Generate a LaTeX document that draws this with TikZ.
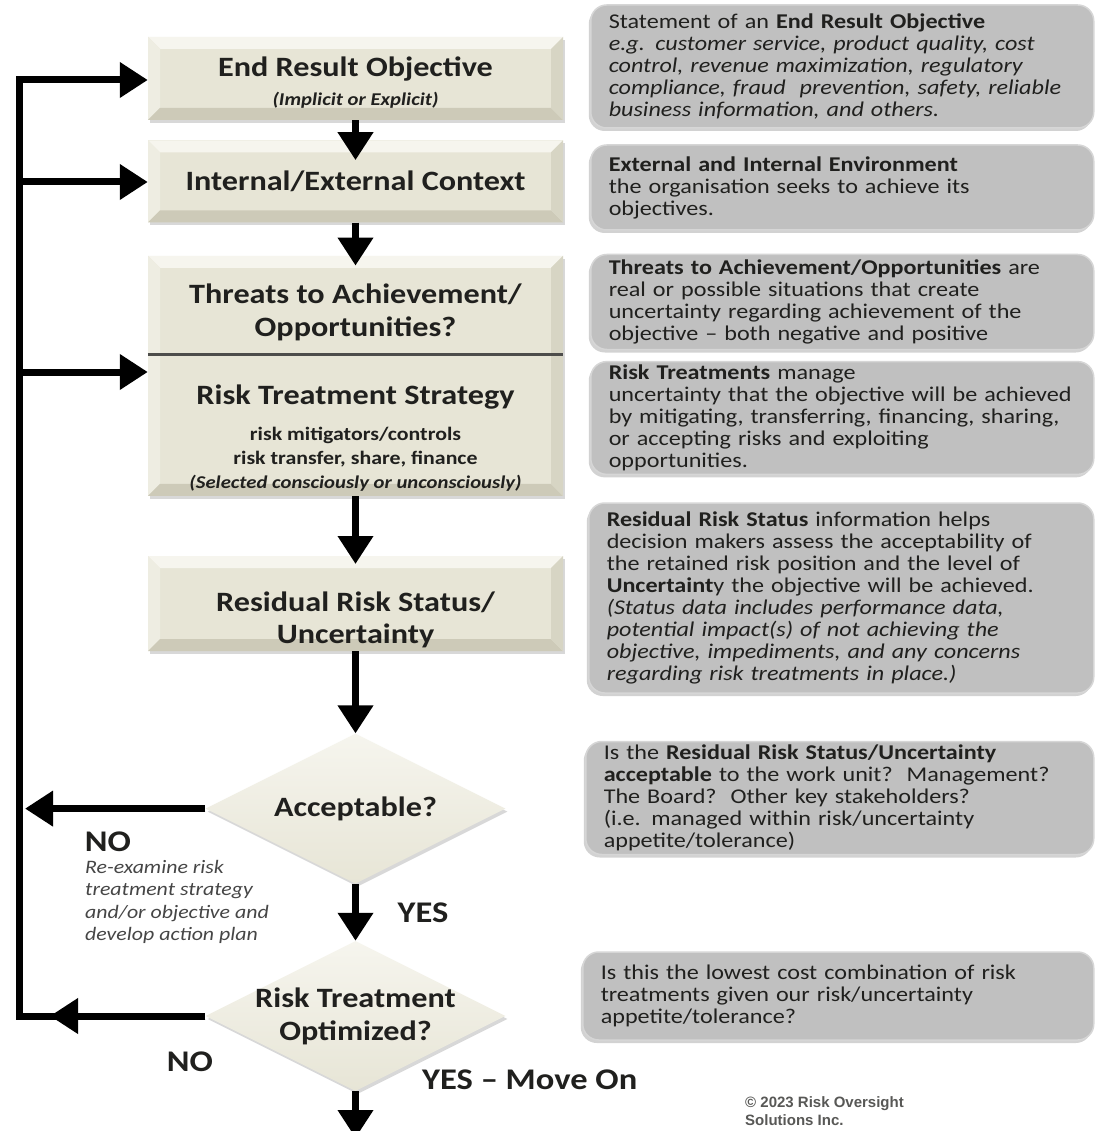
\documentclass[tikz,border=0pt]{standalone}
\usepackage{fontspec}
\setmainfont{Carlito}[FakeStretch=1.15]
\newfontfamily\copyfont{Liberation Sans}
\usetikzlibrary{positioning,arrows.meta,shapes.geometric,shadows}

\definecolor{boxfill}{RGB}{231,229,214}
\definecolor{boxlight}{RGB}{246,245,238}
\definecolor{boxdark}{RGB}{205,202,184}
\definecolor{infofill}{RGB}{192,192,192}
\definecolor{infoedge}{RGB}{214,214,214}
\definecolor{ink}{RGB}{32,32,30}
\definecolor{notegray}{RGB}{70,70,70}

\begin{document}
\begin{tikzpicture}[x=1pt, y=-1pt,
  stepbox/.style={rectangle, fill=boxfill, minimum width=415pt, inner sep=0pt, align=center, text=ink,
    font=\fontsize{28}{32}\selectfont\bfseries,
    drop shadow={opacity=0.3, shadow xshift=2pt, shadow yshift=-3pt},
    path picture={
      \fill[boxlight] (path picture bounding box.north west) -- (path picture bounding box.north east)
        -- ([shift={(-12pt,-12pt)}]path picture bounding box.north east)
        -- ([shift={(12pt,-12pt)}]path picture bounding box.north west) -- cycle;
      \fill[boxlight!50!boxfill] (path picture bounding box.north west) -- ([shift={(12pt,-12pt)}]path picture bounding box.north west)
        -- ([shift={(12pt,12pt)}]path picture bounding box.south west) -- (path picture bounding box.south west) -- cycle;
      \fill[boxdark] (path picture bounding box.south west) -- ([shift={(12pt,12pt)}]path picture bounding box.south west)
        -- ([shift={(-12pt,12pt)}]path picture bounding box.south east) -- (path picture bounding box.south east) -- cycle;
      \fill[boxdark!60!boxfill] (path picture bounding box.north east) -- ([shift={(-12pt,-12pt)}]path picture bounding box.north east)
        -- ([shift={(-12pt,12pt)}]path picture bounding box.south east) -- (path picture bounding box.south east) -- cycle;
    }},
  decision/.style={diamond, aspect=2, minimum width=300pt, minimum height=150pt, inner sep=0pt,
    top color=boxlight, bottom color=boxfill,
    drop shadow={opacity=0.3, shadow xshift=2pt, shadow yshift=-3pt}},
  dtext/.style={align=center, text=ink, font=\fontsize{28}{33}\selectfont\bfseries},
  infobox/.style={rectangle, anchor=west, rounded corners=16pt, fill=infofill, draw=infoedge, line width=1.5pt,
    text width=467pt, inner xsep=18pt, align=left, text=ink, font=\fontsize{21}{22}\selectfont,
    drop shadow={opacity=0.35, shadow xshift=-2pt, shadow yshift=-3pt}},
  arr/.style={-{Triangle[length=28pt,width=34pt]}, line width=7pt},
  tag/.style={inner sep=0pt, text=ink, font=\fontsize{30}{32}\selectfont\bfseries},
  note/.style={inner sep=0pt, align=left, text=notegray, font=\fontsize{19}{22.5}\selectfont\itshape}
]
\path[fill=white, use as bounding box] (0,0) rectangle (1096,1131);

\node[stepbox, minimum height=83pt] (ero) at (355.5,78.5)
  {\rule{0pt}{28pt}End Result Objective\\[-3pt]{\fontsize{18}{20}\selectfont\bfseries\itshape (Implicit or Explicit)}};
\node[stepbox, minimum height=82pt, below=20pt of ero] (ctx) {Internal/External Context};
\node[stepbox, minimum height=240pt, below=33pt of ctx] (tbox) {};
\node[dtext, yshift=-57pt] (threat) at (tbox.north) {Threats to Achievement/\\Opportunities?};
\node[align=center, text=ink, font=\fontsize{19}{24}\selectfont\bfseries, yshift=-182pt] (strat) at (tbox.north)
  {{\fontsize{28}{32}\selectfont Risk Treatment Strategy}\\[12pt]
   risk mitigators/controls\\
   risk transfer, share, finance\\
   {\fontsize{18}{24}\selectfont\itshape (Selected consciously or unconsciously)}};
\draw[line width=2.5pt, draw=ink!80] ([yshift=-99pt]tbox.north west) -- ([yshift=-99pt]tbox.north east);
\node[stepbox, minimum height=95pt, below=60pt of tbox] (rrs) {\rule{0pt}{52pt}Residual Risk Status/\\Uncertainty};
\node[decision, below=82pt of rrs, label={[dtext]center:Acceptable?}] (acc) {};
\node[decision, below=57pt of acc, label={[dtext]center:{Risk Treatment\\Optimized?}}] (opt) {};

\node[infobox, minimum height=123pt] (r1) at (590,66.5)
  {Statement of an \textbf{End Result Objective}\\
   \textit{e.g. customer service, product quality, cost}\\
   \textit{control, revenue maximization, regulatory}\\
   \textit{compliance, fraud\ \ prevention, safety, reliable}\\
   \textit{business information, and others.}};
\node[infobox, minimum height=85pt] (r2) at (590,187.5)
  {\textbf{External and Internal Environment}\\
   the organisation seeks to achieve its\\
   objectives.};
\node[infobox, minimum height=95pt] (r3) at (590,302)
  {\textbf{Threats to Achievement/Opportunities} are\\
   real or possible situations that create\\
   uncertainty regarding achievement of the\\
   objective -- both negative and positive};
\node[infobox, minimum height=105pt] (r4) at (590,418)
  {\textbf{Risk Treatments} manage\\
   uncertainty that the objective will be achieved\\
   by mitigating, transferring, financing, sharing,\\
   or accepting risks and exploiting\\
   opportunities.};
\node[infobox, minimum height=190pt, text width=469pt] (r5) at (588,598)
  {\textbf{Residual Risk Status} information helps\\
   decision makers assess the acceptability of\\
   the retained risk position and the level of\\
   \textbf{Uncertaint}y the objective will be achieved.\\
   \textit{(Status data includes performance data,}\\
   \textit{potential impact(s) of not achieving the}\\
   \textit{objective, impediments, and any concerns}\\
   \textit{regarding risk treatments in place.)}};
\node[infobox, minimum height=113pt, text width=472pt] (r6) at (585,798)
  {Is the \textbf{Residual Risk Status/Uncertainty}\\
   \textbf{acceptable} to the work unit?\ \ Management?\\
   The Board?\ \ Other key stakeholders?\\
   (i.e. managed within risk/uncertainty\\
   appetite/tolerance)};
\node[infobox, minimum height=88pt, text width=475pt] (r7) at (582,996)
  {Is this the lowest cost combination of risk\\
   treatments given our risk/uncertainty\\
   appetite/tolerance?};

\coordinate (fbtop) at (19,80);
\coordinate (fbctx) at (19,182);
\coordinate (fbstr) at (19,372);
\coordinate (accend) at (25,0);
\coordinate (optmark) at (50,0);
\coordinate (exit) at (355.5,1138);

\draw[arr] (ero.south) -- ([yshift=-20pt]ctx.north);
\draw[arr] (ctx.south) -- ([yshift=-10pt]tbox.north);
\draw[arr] (tbox.south) -- ([yshift=-8pt]rrs.north);
\draw[arr] (rrs.south) -- (acc.north);
\draw[arr] (acc.south) -- (opt.north);
\draw[arr] (opt.south) -- (exit);
\draw[arr] (acc.west) -- (acc.west -| accend);
\draw[arr] (opt.west) -- (opt.west -| fbtop) -- (fbtop) -- (fbtop -| ero.west);
\draw[arr] (opt.west) -- (opt.west -| optmark);
\draw[arr] (fbctx) -- (fbctx -| ctx.west);
\draw[arr] (fbstr) -- (fbstr -| tbox.west);

\node[tag] (noacc) at (108,842) {NO};
\node[note, anchor=north west] (redo) at (85,860)
  {Re-examine risk\\treatment strategy\\and/or objective and\\develop action plan};
\node[tag] (yes) at (423,913) {YES};
\node[tag] (noopt) at (190,1062) {NO};
\node[tag, anchor=west] (moveon) at (422,1080) {YES -- Move On};
\node[anchor=west, inner sep=0pt, align=left, text=ink!75, font=\copyfont\fontsize{15}{18}\selectfont\bfseries] (rights) at (745,1111)
  {© 2023 Risk Oversight\\Solutions Inc.};
\end{tikzpicture}
\end{document}
